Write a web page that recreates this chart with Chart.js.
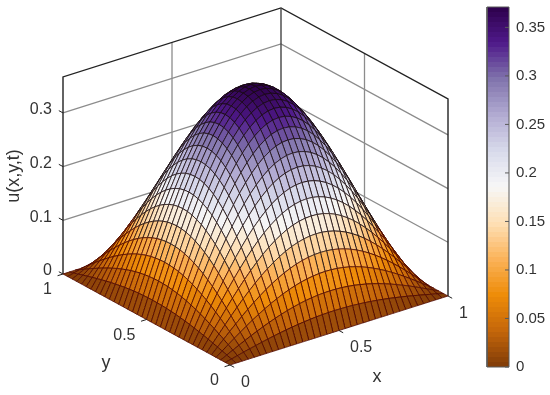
<!DOCTYPE html>
<html lang="en">
<head>
  <meta charset="UTF-8">
  <title>u(x,y,t) surface</title>
  <style>
    body { margin: 0; background: #fff; }
    canvas { display: block; }
  </style>
  <script src="https://cdn.jsdelivr.net/npm/chart.js"></script>
</head>
<body>
  <canvas id="chartCanvas" width="550" height="395"></canvas>
  <script>
    // u for one quarter of the grid (36 x 36 cells), the other quarters mirror it
    const quarterU = [
      [0,0,0,0,0,0,0,0,0,0,0,0,0,0,0,0,0,0,0],
      [0,.0028,.0056,.0084,.0110,.0136,.0161,.0185,.0207,.0228,.0247,.0264,.0279,.0292,.0303,.0312,.0318,.0321,.0323],
      [0,.0056,.0111,.0166,.0220,.0272,.0321,.0368,.0413,.0454,.0492,.0526,.0556,.0582,.0604,.0620,.0633,.0640,.0642],
      [0,.0084,.0166,.0248,.0327,.0405,.0479,.0549,.0615,.0677,.0733,.0784,.0829,.0868,.0900,.0925,.0943,.0954,.0958],
      [0,.0110,.0220,.0327,.0433,.0535,.0633,.0726,.0813,.0895,.0969,.1037,.1096,.1147,.1189,.1222,.1246,.1261,.1265],
      [0,.0136,.0272,.0405,.0535,.0661,.0782,.0897,.1005,.1106,.1198,.1281,.1354,.1417,.1469,.1510,.1540,.1558,.1564],
      [0,.0161,.0321,.0479,.0633,.0782,.0925,.1061,.1189,.1308,.1417,.1516,.1602,.1677,.1739,.1787,.1822,.1843,.1850],
      [0,.0185,.0368,.0549,.0726,.0897,.1061,.1217,.1364,.1501,.1626,.1739,.1838,.1923,.1994,.2050,.2090,.2114,.2122],
      [0,.0207,.0413,.0615,.0813,.1005,.1189,.1364,.1529,.1682,.1822,.1948,.2060,.2155,.2235,.2297,.2342,.2369,.2378],
      [0,.0228,.0454,.0677,.0895,.1106,.1308,.1501,.1682,.1850,.2004,.2143,.2266,.2371,.2459,.2527,.2577,.2606,.2616],
      [0,.0247,.0492,.0733,.0969,.1198,.1417,.1626,.1822,.2004,.2171,.2322,.2454,.2568,.2663,.2738,.2791,.2823,.2834],
      [0,.0264,.0526,.0784,.1037,.1281,.1516,.1739,.1948,.2143,.2322,.2483,.2625,.2747,.2848,.2928,.2985,.3020,.3031],
      [0,.0279,.0556,.0829,.1096,.1354,.1602,.1838,.2060,.2266,.2454,.2625,.2775,.2904,.3011,.3095,.3156,.3192,.3204],
      [0,.0292,.0582,.0868,.1147,.1417,.1677,.1923,.2155,.2371,.2568,.2747,.2904,.3039,.3151,.3239,.3302,.3341,.3353],
      [0,.0303,.0604,.0900,.1189,.1469,.1739,.1994,.2235,.2459,.2663,.2848,.3011,.3151,.3267,.3358,.3424,.3464,.3477],
      [0,.0312,.0620,.0925,.1222,.1510,.1787,.2050,.2297,.2527,.2738,.2928,.3095,.3239,.3358,.3452,.3520,.3560,.3574],
      [0,.0318,.0633,.0943,.1246,.1540,.1822,.2090,.2342,.2577,.2791,.2985,.3156,.3302,.3424,.3520,.3588,.3630,.3644],
      [0,.0321,.0640,.0954,.1261,.1558,.1843,.2114,.2369,.2606,.2823,.3020,.3192,.3341,.3464,.3560,.3630,.3673,.3686],
      [0,.0323,.0642,.0958,.1265,.1564,.1850,.2122,.2378,.2616,.2834,.3031,.3204,.3353,.3477,.3574,.3644,.3686,.3700]
    ];
    const xyTicks = [0, 0.5, 1];
    const zTicks = [0, 0.1, 0.2, 0.3];
    const zTop = 0.367;
    const colorTicks = [0, 0.05, 0.1, 0.15, 0.2, 0.25, 0.3, 0.35];
    const colorMax = 0.371;
    const colorStops = ['#7f3b08','#c4660a','#ee8c08','#fbb35a','#fee0b6','#f7f7f7','#d8daeb','#b2abd2','#8073ac','#4f1a8a','#2d004b'];

    const FONT = '"Liberation Sans", Arial, sans-serif';
    const CELLS = 36;

    function uAt(i, j) {
      return quarterU[i > 18 ? CELLS - i : i][j > 18 ? CELLS - j : j];
    }

    // fixed MATLAB-like view: data (x,y,z) to the plot's x/y scales
    function project(x, y, z) {
      return { x: 230 + 218 * x - 167 * y, y: 365 - 69 * x - 91 * y - 537 * z };
    }

    function hexRgb(h) {
      return [1, 3, 5].map(k => parseInt(h.substr(k, 2), 16));
    }

    function colormap(v) {
      const t = Math.min(Math.max(v / colorMax, 0), 1) * (colorStops.length - 1);
      const k = Math.min(Math.floor(t), colorStops.length - 2);
      const a = hexRgb(colorStops[k]), b = hexRgb(colorStops[k + 1]);
      const c = a.map((av, n) => Math.round(av + (b[n] - av) * (t - k)));
      return `rgb(${c[0]},${c[1]},${c[2]})`;
    }

    function lineSet(data, color, width) {
      return { data, borderColor: color, borderWidth: width, fill: false, pointRadius: 0, tension: 0, clip: false };
    }

    // drawing order, back first; reversed at the end because Chart.js paints dataset 0 last
    const layers = [];

    // walls: grey grid
    const GREY = '#8c8c8c', EDGE = '#222';
    zTicks.slice(1).forEach(z => {
      layers.push(lineSet([project(0, 1, z), project(1, 1, z), project(1, 0, z)], GREY, 1.3));
    });
    layers.push(lineSet([project(0.5, 1, 0), project(0.5, 1, zTop)], GREY, 1.3));
    layers.push(lineSet([project(1, 0.5, 0), project(1, 0.5, zTop)], GREY, 1.3));
    // box edges
    layers.push(lineSet([project(0, 1, 0), project(0, 1, zTop), project(1, 1, zTop), project(1, 0, zTop), project(1, 0, 0)], EDGE, 1.4));
    layers.push(lineSet([project(1, 1, 0), project(1, 1, zTop)], '#444', 1.4));

    // surface cells, far corner first
    const cells = [];
    for (let i = 0; i < CELLS; i++) {
      for (let j = 0; j < CELLS; j++) cells.push([i, j]);
    }
    cells.sort((a, b) => (b[0] + b[1]) - (a[0] + a[1]));
    cells.forEach(([i, j]) => {
      const corners = [[i, j], [i + 1, j], [i + 1, j + 1], [i, j + 1], [i, j]];
      const pts = corners.map(([a, b]) => project(a / CELLS, b / CELLS, uAt(a, b)));
      const mean = (uAt(i, j) + uAt(i + 1, j) + uAt(i + 1, j + 1) + uAt(i, j + 1)) / 4;
      layers.push({
        // tiny tension: the straight-line fast path in Chart.js merges points sharing a pixel column
        data: pts, backgroundColor: colormap(mean),
        borderColor: mean < 0.11 ? 'rgba(80,8,0,0.95)' : 'rgba(24,10,14,0.9)', borderWidth: 0.9,
        fill: 'shape', pointRadius: 0, tension: 0.0001, capBezierPoints: false, clip: false
      });
    });

    // axis tick marks
    xyTicks.forEach(t => {
      layers.push(lineSet([project(t, 0, 0), project(t, -0.025, 0)], EDGE, 1));
      layers.push(lineSet([project(0, t, 0), project(-0.025, t, 0)], EDGE, 1));
    });
    zTicks.forEach(z => {
      layers.push(lineSet([project(0, 1, z), project(0, 1.025, z)], EDGE, 1));
    });

    // colorbar, on its own y axis; each strip runs to the top so no seams show
    const barLeft = 487, barRight = 509, STRIPS = 72;
    for (let s = 0; s < STRIPS; s++) {
      const lo = colorMax * s / STRIPS;
      layers.push({
        yAxisID: 'cb',
        data: [{x: barLeft, y: lo}, {x: barRight, y: lo}, {x: barRight, y: colorMax}, {x: barLeft, y: colorMax}, {x: barLeft, y: lo}],
        backgroundColor: colormap(lo + colorMax / STRIPS / 2), borderWidth: 0, fill: 'shape', pointRadius: 0, clip: false
      });
    }
    layers.push({ ...lineSet([{x: barLeft, y: 0}, {x: barRight, y: 0}, {x: barRight, y: colorMax}, {x: barLeft, y: colorMax}, {x: barLeft, y: 0}], '#5a5a5a', 1), yAxisID: 'cb' });
    colorTicks.forEach(v => {
      layers.push({ ...lineSet([{x: barRight - 4, y: v}, {x: barRight, y: v}], '#5a5a5a', 1), yAxisID: 'cb' });
    });

    // text around the box, placed from the same projection
    const axisText = {
      id: 'axisText',
      afterDraw(chart) {
        const { ctx, scales } = chart;
        const put = (p, dx, dy, s, align) => {
          ctx.textAlign = align;
          ctx.fillText(s, scales.x.getPixelForValue(p.x) + dx, scales.y.getPixelForValue(p.y) + dy);
        };
        ctx.save();
        ctx.fillStyle = '#333';
        ctx.textBaseline = 'middle';
        ctx.font = '16px ' + FONT;
        zTicks.forEach(z => put(project(0, 1, z), -11, -3, String(z), 'right'));
        xyTicks.forEach(t => {
          put(project(0, t, 0), -11, 16, String(t), 'right');
          put(project(t, 0, 0), 11, 17.5, String(t), 'left');
        });
        ctx.font = '18px ' + FONT;
        ctx.textAlign = 'center';
        ctx.fillText('y', 106, 363);
        ctx.fillText('x', 377, 377);
        ctx.translate(14, 176);
        ctx.rotate(-Math.PI / 2);
        ctx.fillText('u(x,y,t)', 0, 0);
        ctx.restore();
      }
    };

    new Chart(document.getElementById('chartCanvas').getContext('2d'), {
      type: 'line',
      data: { datasets: layers.reverse() },
      plugins: [axisText],
      options: {
        responsive: false,
        animation: false,
        events: [],
        layout: { padding: { top: 7, bottom: 28, left: 0, right: 0 } },
        plugins: { legend: { display: false }, tooltip: { enabled: false } },
        scales: {
          x: { type: 'linear', display: false, min: 0, max: 510 },
          y: { type: 'linear', display: false, min: 7, max: 367, reverse: true },
          cb: {
            type: 'linear', axis: 'y', position: 'right', min: 0, max: colorMax,
            afterFit(s) { s.width = 40; s.paddingTop = 0; s.paddingBottom = 0; },
            afterBuildTicks(s) { s.ticks = colorTicks.map(v => ({ value: v })); },
            border: { display: false },
            grid: { display: false, drawTicks: false },
            ticks: {
              autoSkip: false, padding: 6, color: '#333',
              font: { family: FONT, size: 15 },
              callback: v => String(v)
            }
          }
        }
      }
    });
  </script>
</body>
</html>
